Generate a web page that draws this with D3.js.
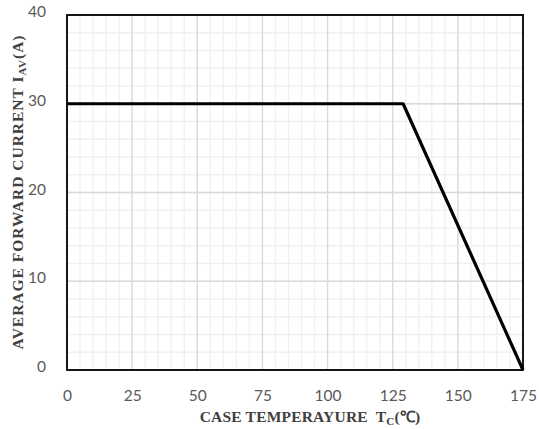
<!DOCTYPE html>
<html lang="en">
<head>
<meta charset="utf-8"/>
<script src="https://cdnjs.cloudflare.com/ajax/libs/d3/7.8.5/d3.min.js"></script>
<style>
  body { margin: 0; background: #fff; }
  .tick text { font-family: Lato, "Open Sans", sans-serif; font-size: 15.5px; fill: #595959; }
  .title { font-family: "Liberation Serif", "Times New Roman", serif; font-weight: bold; font-size: 15.5px; fill: #404040; white-space: pre; }
</style>
</head>
<body>
<svg class="chart"></svg>
<script>
// derating curve: case temperature vs average forward current
var tempC = [0, 129, 175];
var currentA = [30, 30, 0];
var xTicks = [0, 25, 50, 75, 100, 125, 150, 175];
var yTicks = [0, 10, 20, 30, 40];

var width = 539, height = 429;
var margin = {left: 67, right: 16, top: 15, bottom: 59};

var svg = d3.select('.chart').attr('width', width).attr('height', height);

var x = d3.scaleLinear().domain([0, 175]).range([margin.left, width - margin.right]);
var y = d3.scaleLinear().domain([0, 40]).range([height - margin.bottom, margin.top]);

// minor grid
svg.append('g').selectAll('line.vx')
  .data(d3.range(0, 176, 5))
  .enter().append('line')
  .attr('x1', function(d) { return x(d); }).attr('x2', function(d) { return x(d); })
  .attr('y1', y(0)).attr('y2', y(40))
  .attr('stroke', '#f0f0f0').attr('stroke-width', 1.3);
svg.append('g').selectAll('line.hy')
  .data(d3.range(0, 41, 2))
  .enter().append('line')
  .attr('y1', function(d) { return y(d); }).attr('y2', function(d) { return y(d); })
  .attr('x1', x(0)).attr('x2', x(175))
  .attr('stroke', '#f0f0f0').attr('stroke-width', 1.3);

// major grid
svg.append('g').selectAll('line')
  .data(xTicks)
  .enter().append('line')
  .attr('x1', function(d) { return x(d); }).attr('x2', function(d) { return x(d); })
  .attr('y1', y(0)).attr('y2', y(40))
  .attr('stroke', '#d9d9d9').attr('stroke-width', 1.3);
svg.append('g').selectAll('line')
  .data(yTicks)
  .enter().append('line')
  .attr('y1', function(d) { return y(d); }).attr('y2', function(d) { return y(d); })
  .attr('x1', x(0)).attr('x2', x(175))
  .attr('stroke', '#d9d9d9').attr('stroke-width', 1.3);

// axes (labels only)
var xAxis = svg.append('g')
  .attr('transform', 'translate(0,' + (y(0) + 17) + ')')
  .call(d3.axisBottom(x).tickValues(xTicks).tickSize(0));
xAxis.select('.domain').remove();

var yAxis = svg.append('g')
  .attr('transform', 'translate(' + (x(0) - 18) + ',0)')
  .call(d3.axisLeft(y).tickValues(yTicks).tickSize(0));
yAxis.select('.domain').remove();
yAxis.selectAll('text').attr('dy', '0.1em');

// plot frame
svg.append('rect')
  .attr('x', x(0)).attr('y', y(40))
  .attr('width', x(175) - x(0)).attr('height', y(0) - y(40))
  .attr('fill', 'none').attr('stroke', '#000').attr('stroke-width', 1.8);

// the curve
var line = d3.line()
  .x(function(d, i) { return x(tempC[i]); })
  .y(function(d) { return y(d); });
svg.append('path')
  .datum(currentA)
  .attr('d', line)
  .attr('fill', 'none')
  .attr('stroke', '#000')
  .attr('stroke-width', 3.2)
  .attr('stroke-linejoin', 'round');

// titles
var xt = svg.append('text').attr('class', 'title')
  .attr('x', 310).attr('y', 422).attr('text-anchor', 'middle')
  .attr('letter-spacing', 0.2);
xt.append('tspan').text('CASE TEMPERAYURE  T');
xt.append('tspan').attr('dy', 3).attr('font-size', '11px').text('C');
xt.append('tspan').attr('dy', -3).text('(\u2103)');

var yt = svg.append('text').attr('class', 'title')
  .attr('transform', 'translate(23,192) rotate(-90)')
  .attr('text-anchor', 'middle')
  .attr('letter-spacing', 1);
yt.append('tspan').text('AVERAGE FORWARD CURRENT I');
yt.append('tspan').attr('dy', 3).attr('font-size', '11px').text('AV');
yt.append('tspan').attr('dy', -3).text('(A)');
</script>
</body>
</html>
